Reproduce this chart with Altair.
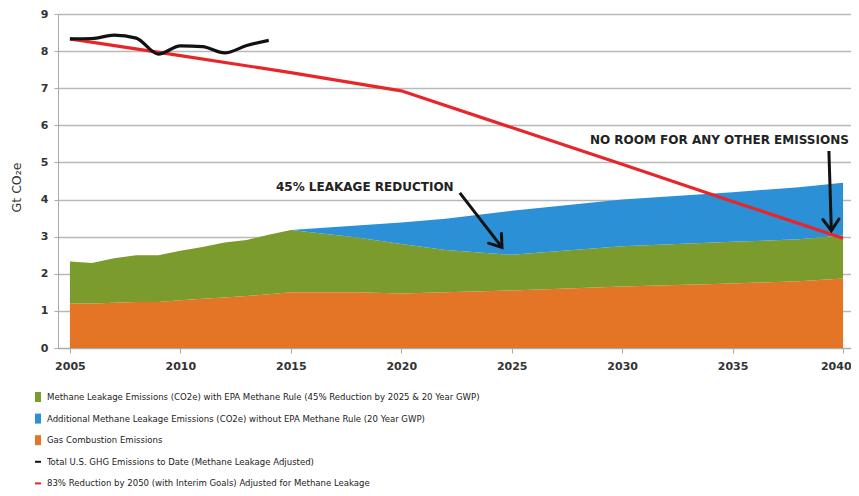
import altair as alt
import pandas as pd

# ---------------- data ----------------
area_years = [2005, 2006, 2007, 2008, 2009, 2010, 2011, 2012, 2013, 2014, 2015,
              2018, 2020, 2022, 2025, 2030, 2035, 2038, 2040]
combustion = [1.20, 1.20, 1.22, 1.24, 1.24, 1.29, 1.33, 1.36, 1.40, 1.45, 1.50,
              1.50, 1.47, 1.50, 1.55, 1.66, 1.74, 1.80, 1.87]
leak_rule_top = [2.33, 2.29, 2.42, 2.50, 2.50, 2.62, 2.72, 2.84, 2.91, 3.05, 3.18,
                 2.98, 2.80, 2.64, 2.51, 2.74, 2.86, 2.93, 3.03]
no_rule_top = [2.33, 2.29, 2.42, 2.50, 2.50, 2.62, 2.72, 2.84, 2.91, 3.05, 3.18,
               3.30, 3.38, 3.48, 3.70, 4.00, 4.20, 4.33, 4.45]

hist_years = [2005, 2006, 2007, 2008, 2009, 2010, 2011, 2012, 2013, 2014]
hist_total = [8.33, 8.34, 8.43, 8.35, 7.92, 8.14, 8.12, 7.95, 8.15, 8.29]

target_years = [2005, 2010, 2015, 2020, 2025, 2030, 2035, 2040]
target_total = [8.33, 7.88, 7.42, 6.93, 5.94, 4.95, 3.95, 2.96]

legend_labels = [
    "Methane Leakage Emissions (CO2e) with EPA Methane Rule (45% Reduction by 2025 & 20 Year GWP)",
    "Additional Methane Leakage Emissions (CO2e) without EPA Methane Rule (20 Year GWP)",
    "Gas Combustion Emissions",
    "Total U.S. GHG Emissions to Date (Methane Leakage Adjusted)",
    "83% Reduction by 2050 (with Interim Goals) Adjusted for Methane Leakage",
]
c_green, c_blue, c_orange, c_black, c_red = "#7b9b2d", "#2b90d5", "#e57526", "#111111", "#e8262a"
legend_colors = [c_green, c_blue, c_orange, c_black, c_red]
SWATCH = "M-0.6,-1H0.6V1H-0.6Z"
DASH = "M-0.6,-0.2H0.6V0.2H-0.6Z"
legend_shapes = [SWATCH, SWATCH, SWATCH, DASH, DASH]

ann_text = ["45% LEAKAGE REDUCTION", "NO ROOM FOR ANY OTHER EMISSIONS"]
ann_text_year = [2018.35, 2034.40]
ann_text_value = [4.34, 5.60]
arrow1_year = [2022.65, 2024.56]
arrow1_value = [4.18, 2.71]
arrow2_year = [2039.36, 2039.47]
arrow2_value = [5.31, 3.16]
head_year = [2024.56, 2039.47]
head_value = [2.71, 3.16]
head_angle = [322.6, 358.0]

x_ticks = [2005, 2010, 2015, 2020, 2025, 2030, 2035, 2040]
y_ticks = [0, 1, 2, 3, 4, 5, 6, 7, 8, 9]

# ---------------- tables ----------------
orange_df = pd.DataFrame({"year": area_years, "lo": [0.0] * len(area_years), "hi": combustion})
green_df = pd.DataFrame({"year": area_years, "lo": combustion, "hi": leak_rule_top})
blue_df = pd.DataFrame({"year": area_years, "lo": leak_rule_top, "hi": no_rule_top})
hist_df = pd.DataFrame({"year": hist_years, "value": hist_total})
target_df = pd.DataFrame({"year": target_years, "value": target_total})
text_df = pd.DataFrame({"year": ann_text_year, "value": ann_text_value, "text": ann_text})
arrow1_df = pd.DataFrame({"year": arrow1_year, "value": arrow1_value})
arrow2_df = pd.DataFrame({"year": arrow2_year, "value": arrow2_value})
head_df = pd.DataFrame({"year": head_year, "value": head_value, "angle": head_angle})
legend_df = pd.DataFrame({"label": legend_labels})

# ---------------- scales / axes ----------------
AX_FONT = "DejaVu Sans"
LEG_FONT = "DejaVu Sans Condensed, Lato, sans-serif"
x_scale = alt.Scale(domain=[2004.46, 2040.36], nice=False, zero=False)
y_scale = alt.Scale(domain=[0, 9], nice=False, zero=True)
x_axis = alt.Axis(values=x_ticks, format="d", title=None, grid=False,
                  labelFont=AX_FONT, labelFontWeight="bold", labelFontSize=11,
                  labelColor="#333333", tickSize=5, tickColor="#aaaaaa",
                  domainColor="#aaaaaa", labelPadding=7,
                  labelFlush=10, labelFlushOffset=8)
y_axis = alt.Axis(values=y_ticks, format="d", title="Gt CO\u2082e", grid=True,
                  gridColor="#b9b9b9", gridWidth=1.3, tickSize=4, tickColor="#aaaaaa",
                  domainColor="#aaaaaa", labelFont=AX_FONT, labelFontWeight="bold",
                  labelFontSize=11, labelColor="#333333", labelPadding=6,
                  titleFont=AX_FONT, titleFontWeight="normal", titleFontSize=12.5,
                  titleColor="#333333", titleX=-42, titleY=173, titleAngle=270,
                  titleAlign="center", titleBaseline="middle")


def X():
    return alt.X("year:Q", scale=x_scale, axis=x_axis)


def Y(field):
    return alt.Y(f"{field}:Q", scale=y_scale, axis=y_axis)


def area(df, color):
    return alt.Chart(df).mark_area(color=color, opacity=1).encode(
        x=X(), y=Y("lo"), y2="hi:Q")


orange = area(orange_df, c_orange)
green = area(green_df, c_green)
blue = area(blue_df, c_blue)

red_line = alt.Chart(target_df).mark_line(color=c_red, strokeWidth=3.2).encode(
    x=X(), y=Y("value"))
black_line = alt.Chart(hist_df).mark_line(color=c_black, strokeWidth=3.2,
                                          interpolate="monotone").encode(
    x=X(), y=Y("value"))

texts = alt.Chart(text_df).mark_text(font=AX_FONT, fontWeight="bold", fontSize=12,
                                     color="#222222", align="center",
                                     baseline="middle").encode(
    x=X(), y=Y("value"), text="text:N")

arrow1 = alt.Chart(arrow1_df).mark_line(color="#111111", strokeWidth=3).encode(
    x=X(), y=Y("value"))
arrow2 = alt.Chart(arrow2_df).mark_line(color="#111111", strokeWidth=3).encode(
    x=X(), y=Y("value"))
heads = alt.Chart(head_df).mark_point(shape="M-0.7,-1L0,0L0.7,-1", filled=False,
                                      size=529, strokeWidth=3, color="#111111",
                                      opacity=1, strokeCap="round",
                                      strokeJoin="miter").encode(
    x=X(), y=Y("value"), angle=alt.Angle("angle:Q", scale=None))

leg = alt.Legend(title=None, orient="none", legendX=-25, legendY=378,
                 direction="vertical", symbolSize=100, symbolOpacity=1,
                 symbolStrokeWidth=0, labelFont=LEG_FONT,
                 labelFontSize=9.5, labelColor="#222222", labelLimit=800,
                 rowPadding=11.6, labelOffset=4, padding=0)
legend_layer = alt.Chart(legend_df).mark_point(filled=True, opacity=0).encode(
    x=alt.value(0), y=alt.value(0),
    color=alt.Color("label:N", scale=alt.Scale(domain=legend_labels, range=legend_colors),
                    legend=leg, sort=legend_labels),
    shape=alt.Shape("label:N", scale=alt.Scale(domain=legend_labels, range=legend_shapes),
                    legend=leg, sort=legend_labels),
)

chart = alt.layer(orange, green, blue, red_line, black_line, arrow1, arrow2, heads,
                  texts, legend_layer).properties(
    width=793, height=334,
    padding={"left": 50, "top": 6, "right": 0, "bottom": 140},
    autosize=alt.AutoSizeParams(type="none"),
    background="white",
).configure_view(stroke=None)

chart.save("out.html", embed_options={"renderer": "svg", "actions": False})
